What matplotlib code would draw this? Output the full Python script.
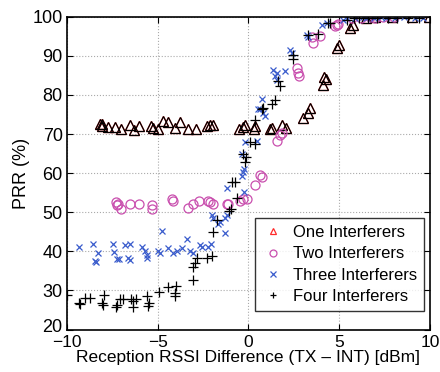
import matplotlib
matplotlib.use("Agg")
from matplotlib import pyplot as plt
from matplotlib.lines import Line2D
from matplotlib.transforms import ScaledTranslation

plt.rcParams["font.family"] = ["Liberation Sans", "DejaVu Sans"]

# one interferer
one_x = [-8.18, -8.06, -8.09, -7.72, -7.36, -7.02, -6.53, -6.31, -6.02, -5.39,
         -5.28, -5.00, -4.73, -4.42, -4.05, -3.74, -3.35, -2.89, -2.30, -2.12,
         -1.97, -0.51, -0.30, -0.19, 0.30, 0.36, 1.18, 1.32, 1.85, 2.05,
         3.02, 3.30, 3.40, 4.12, 4.15, 4.30, 4.86, 5.00, 5.62, 5.75,
         6.50, 7.00, 7.89, 8.99, 9.95]
one_y = [72.5, 72.5, 72.1, 71.8, 71.8, 71.2, 72.3, 71.1, 72.1, 72.1,
         71.5, 71.4, 73.4, 73.1, 71.5, 73.1, 71.2, 71.4, 72.1, 72.3,
         72.3, 71.2, 71.8, 72.3, 71.2, 72.0, 71.4, 71.5, 72.4, 71.6,
         74.2, 75.5, 76.6, 82.5, 84.6, 84.0, 92.0, 92.8, 97.1, 97.8,
         99.8, 100.0, 100.0, 100.0, 100.0]

# two interferers
two_x = [-7.30, -7.26, -7.17, -7.02, -6.53, -6.02, -5.33, -5.30, -4.20, -4.18,
         -3.32, -3.04, -2.74, -2.21, -2.12, -1.94, -1.20, -1.11, -0.47, -0.28,
         -0.10, 0.36, 0.63, 0.73, 1.55, 1.74, 1.83, 2.66, 2.74, 2.80,
         3.48, 3.57, 3.94, 4.77, 4.86, 4.95, 5.69, 6.20, 6.69, 7.00,
         7.43, 8.00]
two_y = [52.6, 51.8, 52.0, 50.9, 52.2, 52.0, 51.8, 50.9, 53.3, 53.0,
         51.1, 52.2, 53.0, 53.0, 52.6, 52.0, 52.2, 52.0, 53.0, 53.3,
         53.5, 57.0, 59.6, 59.0, 68.3, 69.7, 70.2, 86.9, 85.6, 84.9,
         94.9, 93.2, 95.1, 97.6, 97.9, 98.1, 99.6, 99.8, 100.0, 99.8,
         100.0, 99.9]

# three interferers
three_x = [-9.32, -8.55, -8.46, -8.40, -8.28, -7.45, -7.39, -7.26, -7.12, -6.80,
           -6.53, -6.62, -6.53, -5.88, -5.70, -5.61, -5.58, -4.97, -4.88, -4.78,
           -4.42, -4.14, -3.96, -3.63, -3.40, -3.22, -3.04, -2.67, -2.58, -2.21,
           -2.07, -2.03, -1.94, -1.20, -1.29, -1.66, -1.57, -1.29, -1.20, -0.23,
           -0.37, -0.28, -0.23, -0.37, -0.19, 0.45, 0.73, 0.63, 0.54, 0.91,
           0.82, 1.37, 1.55, 1.46, 2.01, 1.55, 2.29, 2.38, 3.21, 3.29,
           4.03, 4.31, 5.22, 5.41, 5.90, 6.30, 6.50, 6.90, 7.30, 7.60,
           8.10, 8.60, 9.20, 9.60]
three_y = [41.0, 41.8, 37.6, 37.2, 39.5, 42.0, 39.9, 38.1, 38.1, 41.6,
           41.8, 38.4, 37.8, 41.2, 40.1, 39.1, 38.4, 40.1, 39.5, 45.2,
           40.8, 39.5, 40.1, 40.8, 43.1, 40.1, 39.7, 41.6, 41.2, 41.0,
           41.8, 49.4, 48.6, 49.4, 48.6, 46.9, 47.6, 44.8, 56.2, 55.2,
           59.4, 60.3, 61.1, 64.9, 67.9, 68.3, 79.0, 76.5, 76.3, 74.6,
           75.5, 86.5, 85.6, 84.8, 86.0, 83.9, 91.5, 90.7, 95.4, 94.9,
           97.9, 98.3, 99.2, 99.6, 99.8, 100.0, 99.6, 99.8, 100.0, 99.7,
           99.8, 100.0, 99.7, 99.8]

# four interferers
four_x = [-9.98, -9.32, -9.25, -9.01, -8.73, -8.09, -8.00, -7.96, -7.30, -7.23,
          -7.08, -6.93, -6.44, -6.35, -6.38, -6.20, -5.58, -5.47, -5.52, -4.91,
          -4.42, -4.05, -4.00, -4.05, -3.04, -3.07, -2.95, -2.85, -2.30, -2.03,
          -1.94, -1.75, -1.07, -0.96, -0.65, -0.89, -0.74, -0.19, -0.29, -0.14,
          0.08, 0.36, 0.36, 0.78, 0.73, 1.28, 1.46, 1.64, 1.74, 2.47,
          2.47, 3.29, 3.84, 4.49, 4.40, 5.41, 5.80, 6.10, 6.60, 7.10,
          7.70, 8.20, 8.80, 9.40]
four_y = [28.9, 26.8, 26.6, 28.1, 28.1, 26.8, 26.2, 28.8, 25.7, 26.4,
          27.9, 27.7, 27.9, 27.4, 25.7, 27.7, 28.5, 26.8, 26.0, 29.6,
          30.8, 29.4, 31.1, 28.5, 32.7, 35.9, 37.0, 38.2, 38.4, 38.7,
          45.0, 48.0, 50.3, 50.9, 53.7, 57.7, 57.7, 62.8, 64.9, 64.1,
          67.9, 67.4, 73.5, 76.7, 76.3, 77.6, 78.7, 83.5, 82.2, 90.3,
          89.2, 95.4, 95.6, 98.3, 98.3, 99.2, 99.6, 99.8, 99.6, 99.8,
          99.6, 99.8, 99.6, 99.8]

red = "#ff2a2a"
magenta = "#c94fae"
blue = "#3a5ccc"

figure = plt.figure(figsize=(4.4, 3.72), dpi=100)
axes = figure.add_axes([0.152, 0.114, 0.825, 0.841])

axes.plot(one_x, one_y, "^", mfc="none", mec=red, ms=7.5, mew=0.9)
axes.plot(one_x, one_y, "^", mfc="none", mec="black", ms=7.5, mew=0.9)
axes.plot(two_x, two_y, "o", mfc="none", mec=magenta, ms=6.5, mew=0.9)
axes.plot(three_x, three_y, "x", color=blue, ms=5, mew=0.9)
axes.plot(four_x, four_y, "+", color="black", ms=7, mew=0.9)

axes.set_xlim(-10, 10)
axes.set_ylim(20, 100)
axes.set_xticks([-10, -5, 0, 5, 10])
axes.set_xticklabels(["\u221210", "\u22125", "0", "5", "10"])
axes.set_yticks(range(20, 101, 10))
axes.grid(True, linestyle=":", color="#aaaaaa", linewidth=0.8)
axes.tick_params(direction="in", top=True, right=True, length=4)
axes.tick_params(axis="x", pad=4, labelsize=12.5)
axes.tick_params(axis="y", pad=3, labelsize=13)
for s in axes.spines.values():
    s.set_linewidth(1.2)

# nudge the bottom y label up so it clears the -10 below it
bottom = axes.get_yticklabels()[0]
bottom.set_transform(bottom.get_transform() + ScaledTranslation(0, 3 / 72, figure.dpi_scale_trans))

axes.set_xlabel("Reception RSSI Difference (TX \u2013 INT) [dBm]", fontsize=12.5, labelpad=0)
axes.set_ylabel("PRR (%)", fontsize=13, labelpad=2)

handles = [
    Line2D([], [], ls="none", marker="^", mfc="none", mec=red, ms=5, mew=0.9),
    Line2D([], [], ls="none", marker="o", mfc="none", mec=magenta, ms=5, mew=0.9),
    Line2D([], [], ls="none", marker="x", color=blue, ms=4, mew=0.9),
    Line2D([], [], ls="none", marker="+", color="black", ms=5, mew=0.9),
]
labels = ["One Interferers", "Two Interferers", "Three Interferers", "Four Interferers"]
leg = axes.legend(handles, labels, loc="lower right", bbox_to_anchor=(0.983, 0.06),
                  fontsize=12, frameon=True, fancybox=False, handlelength=1.4,
                  handletextpad=0.5, borderpad=0.4, labelspacing=0.38, borderaxespad=0)
leg.get_frame().set_edgecolor("black")
leg.get_frame().set_linewidth(1.0)

figure.savefig("out.png", dpi=100)
